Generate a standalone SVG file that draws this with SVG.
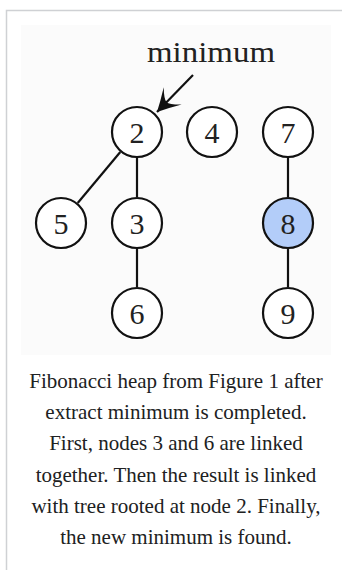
<svg xmlns="http://www.w3.org/2000/svg" width="342" height="570" viewBox="0 0 342 570">
<style>
.node circle{fill:#fff;stroke:#111;stroke-width:2.2}
.node text{font-family:"Liberation Serif",serif;font-size:30px;fill:#222;text-anchor:middle}
.edge{stroke:#111;stroke-width:2.2;fill:none}
.cap{font-family:"Liberation Serif",serif;font-size:21px;fill:#202122;text-anchor:middle}
</style>
<defs>
<marker id="ah" markerUnits="userSpaceOnUse" markerWidth="30" markerHeight="30" viewBox="-20 -12 22 24" refX="0" refY="0" orient="auto">
<path d="M0,0 Q-8,-4 -18,-10 Q-11,-3 -11,0 Q-11,3 -18,10 Q-8,4 0,0 Z" fill="#111"/>
</marker>
</defs>
<rect x="0" y="0" width="342" height="570" fill="#fff"/>
<path d="M6.5,570 V10.5 H342" fill="none" stroke="#cfd1d4" stroke-width="1.5"/>
<rect x="21" y="25" width="310" height="330" fill="#fbfbfb"/>
<text x="211" y="62" font-family="'Liberation Serif',serif" font-size="30" fill="#222" text-anchor="middle" textLength="128" lengthAdjust="spacingAndGlyphs">minimum</text>
<g id="connectors">
<line class="edge" x1="193" y1="75" x2="157" y2="112" marker-end="url(#ah)"/>
<line class="edge" x1="120.3" y1="152" x2="77.7" y2="203"/>
<line class="edge" x1="137" y1="158" x2="137" y2="197"/>
<line class="edge" x1="137" y1="249" x2="137" y2="287"/>
<line class="edge" x1="288" y1="158" x2="288" y2="197"/>
<line class="edge" x1="288" y1="249" x2="288" y2="287"/>
</g>
<g id="n2" class="node"><circle cx="137" cy="132" r="25"/><text x="137" y="142.5">2</text></g>
<g id="n4" class="node"><circle cx="212" cy="132" r="25"/><text x="212" y="142.5">4</text></g>
<g id="n7" class="node"><circle cx="288" cy="132" r="25"/><text x="288" y="142.5">7</text></g>
<g id="n5" class="node"><circle cx="61" cy="223" r="25"/><text x="61" y="233.5">5</text></g>
<g id="n3" class="node"><circle cx="137" cy="223" r="25"/><text x="137" y="233.5">3</text></g>
<g id="n8" class="node"><circle cx="288" cy="223" r="25" style="fill:#b3cdf9"/><text x="288" y="233.5">8</text></g>
<g id="n6" class="node"><circle cx="137" cy="313" r="25"/><text x="137" y="323.5">6</text></g>
<g id="n9" class="node"><circle cx="288" cy="313" r="25"/><text x="288" y="323.5">9</text></g>
<g id="caption">
<text class="cap" x="176" y="388">Fibonacci heap from Figure 1 after</text>
<text class="cap" x="176" y="419">extract minimum is completed.</text>
<text class="cap" x="176" y="450">First, nodes 3 and 6 are linked</text>
<text class="cap" x="176" y="482">together. Then the result is linked</text>
<text class="cap" x="176" y="513">with tree rooted at node 2. Finally,</text>
<text class="cap" x="176" y="544">the new minimum is found.</text>
</g>
</svg>
